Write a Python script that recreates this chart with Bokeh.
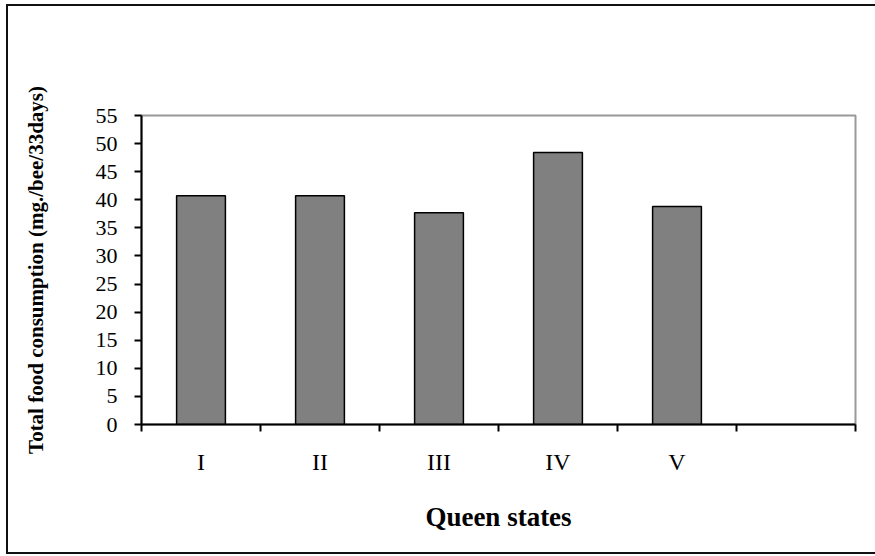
from bokeh.plotting import figure
from bokeh.models import Range1d, FixedTicker, ColumnDataSource
from bokeh.embed import file_html
from bokeh.resources import INLINE

categories = ["I", "II", "III", "IV", "V", ""]
values = [40.7, 40.7, 37.7, 48.4, 38.8]
y_ticks = list(range(0, 56, 5))

n = len(categories)
xs = [i + 0.5 for i in range(len(values))]
src = ColumnDataSource(dict(x=xs, top=values))

p = figure(width=869, height=550, output_backend="svg", toolbar_location=None,
           x_range=Range1d(0, n), y_range=Range1d(0, 55),
           min_border_left=135, min_border_top=111, min_border_right=20,
           min_border_bottom=130)
p.border_fill_color = None
p.styles = {
    "margin-left": "6px",
    "margin-top": "4px",
    "box-shadow": "inset 2px 0 0 0 #111111, inset 0 2px 0 0 #111111, inset 0 -2px 0 0 #111111",
}

p.vbar(x="x", top="top", bottom=0, width=0.41, source=src,
       fill_color="#808080", line_color="black", line_width=1.5)

p.xgrid.visible = False
p.ygrid.visible = False
p.outline_line_color = "#999999"
p.outline_line_width = 2

FONT = "Liberation Serif"

xa = p.xaxis[0]
xa.ticker = FixedTicker(ticks=[i + 0.5 for i in range(n)], minor_ticks=list(range(n + 1)))
xa.major_label_overrides = {i + 0.5: c for i, c in enumerate(categories)}
xa.major_tick_out = 0
xa.major_tick_in = 0
xa.minor_tick_out = 7
xa.minor_tick_in = 0
xa.minor_tick_line_color = "black"
xa.minor_tick_line_width = 2
xa.axis_line_color = "black"
xa.axis_line_width = 2
xa.major_label_text_font = FONT
xa.major_label_text_font_size = "24px"
xa.major_label_text_color = "black"
xa.major_label_standoff = 17
xa.axis_label = "Queen states"
xa.axis_label_text_font = FONT
xa.axis_label_text_font_style = "bold"
xa.axis_label_text_font_size = "27px"
xa.axis_label_text_color = "black"
xa.axis_label_standoff = 24

ya = p.yaxis[0]
ya.ticker = FixedTicker(ticks=y_ticks)
ya.minor_tick_line_color = None
ya.major_tick_out = 7
ya.major_tick_in = 0
ya.major_tick_line_color = "black"
ya.major_tick_line_width = 2
ya.axis_line_color = "black"
ya.axis_line_width = 2
ya.major_label_text_font = FONT
ya.major_label_text_font_size = "22px"
ya.major_label_text_color = "black"
ya.major_label_standoff = 17
ya.axis_label = "Total food consumption (mg./bee/33days)"
ya.axis_label_text_font = FONT
ya.axis_label_text_font_style = "bold"
ya.axis_label_text_font_size = "21px"
ya.axis_label_text_color = "black"
ya.axis_label_standoff = 45

open("out.html", "w").write(file_html(p, INLINE))
